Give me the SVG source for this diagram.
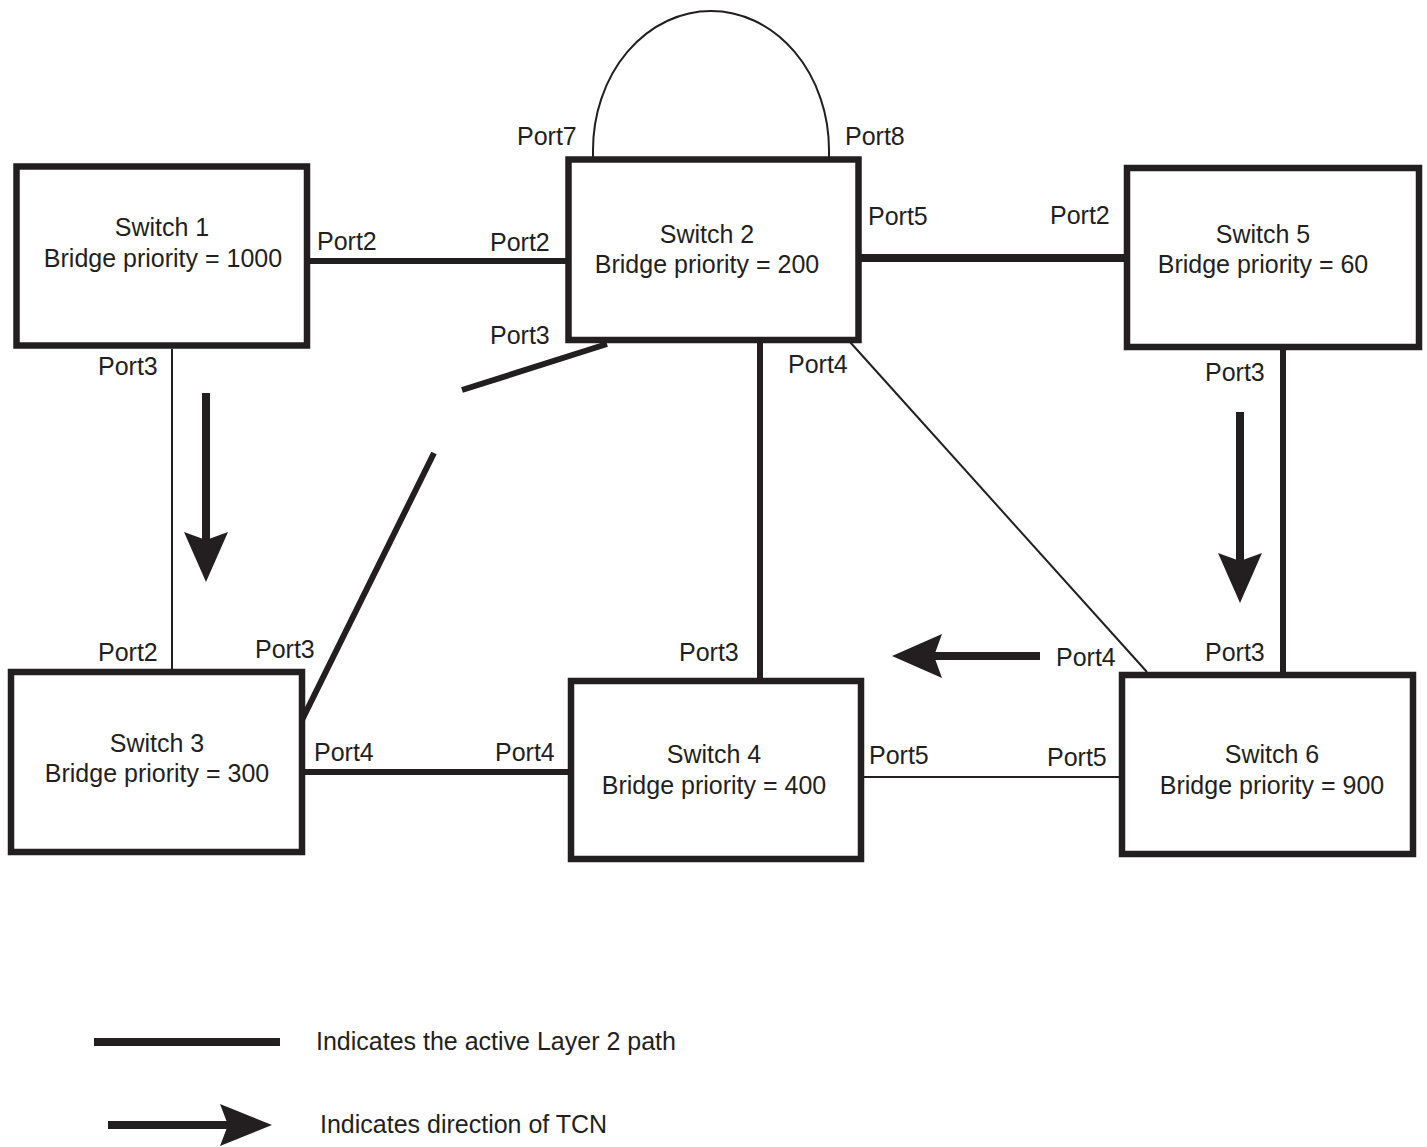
<svg xmlns="http://www.w3.org/2000/svg" width="1427" height="1147" viewBox="0 0 1427 1147">
<style>
.box{fill:#fff;stroke:#231f20;stroke-width:6.5}
.t{font-family:"Liberation Sans",Arial,sans-serif;font-size:25px;fill:#231f20}
.c{text-anchor:middle}
.thick{stroke:#231f20;stroke-width:6;fill:none}
.thin{stroke:#231f20;stroke-width:2;fill:none}
.arr{stroke:#231f20;stroke-width:8;fill:none}
</style>
<defs>
<marker id="head" viewBox="0 0 50 44" refX="8" refY="22" markerWidth="50" markerHeight="44" markerUnits="userSpaceOnUse" orient="auto">
<path d="M0,0 L50,22 L0,44 L8,22 z" fill="#231f20"/>
</marker>
<marker id="headL" viewBox="0 0 52 42" refX="8" refY="21" markerWidth="52" markerHeight="42" markerUnits="userSpaceOnUse" orient="auto">
<path d="M0,0 L52,21 L0,42 L8,21 z" fill="#231f20"/>
</marker>
</defs>
<g id="connectors">
<line class="thick" x1="310" y1="261" x2="566" y2="261"/>
<line class="thick" style="stroke-width:8" x1="860" y1="258" x2="1126" y2="258"/>
<line class="thin" x1="172" y1="349" x2="172" y2="670"/>
<line class="thick" x1="607" y1="344" x2="462" y2="390"/>
<line class="thick" x1="434" y1="453" x2="301" y2="722"/>
<line class="thick" x1="760" y1="342" x2="760" y2="680"/>
<line class="thin" x1="850" y1="342" x2="1147" y2="672"/>
<line class="thick" x1="1283" y1="349" x2="1283" y2="674"/>
<line class="thick" x1="303" y1="772" x2="570" y2="772"/>
<line class="thin" x1="862" y1="777" x2="1121" y2="777"/>
<path class="thin" d="M593,157 L593,150 A118,139 0 0 1 829,150 L829,157"/>
<line class="arr" x1="206" y1="393" x2="206" y2="540" marker-end="url(#head)"/>
<line class="arr" x1="1240" y1="412" x2="1240" y2="561" marker-end="url(#head)"/>
<line class="arr" x1="1040" y1="656" x2="934" y2="656" marker-end="url(#head)"/>
</g>
<g id="switch1">
<rect class="box" x="16.5" y="166.5" width="290.5" height="179"/>
<text class="t c" x="162" y="236">Switch 1</text>
<text class="t c" x="163" y="267">Bridge priority = 1000</text>
</g>
<g id="switch2">
<rect class="box" x="568.5" y="159.5" width="290" height="180.5"/>
<text class="t c" x="707" y="243">Switch 2</text>
<text class="t c" x="707" y="273">Bridge priority = 200</text>
</g>
<g id="switch5">
<rect class="box" x="1127" y="168" width="292" height="179"/>
<text class="t c" x="1263" y="243">Switch 5</text>
<text class="t c" x="1263" y="273">Bridge priority = 60</text>
</g>
<g id="switch3">
<rect class="box" x="11" y="672" width="291" height="180"/>
<text class="t c" x="157" y="752">Switch 3</text>
<text class="t c" x="157" y="782">Bridge priority = 300</text>
</g>
<g id="switch4">
<rect class="box" x="571" y="681" width="290" height="178"/>
<text class="t c" x="714" y="763">Switch 4</text>
<text class="t c" x="714" y="794">Bridge priority = 400</text>
</g>
<g id="switch6">
<rect class="box" x="1122" y="675" width="291" height="179"/>
<text class="t c" x="1272" y="763">Switch 6</text>
<text class="t c" x="1272" y="794">Bridge priority = 900</text>
</g>
<g id="port-labels">
<text class="t" x="317" y="250">Port2</text>
<text class="t" x="490" y="251">Port2</text>
<text class="t" x="98" y="375">Port3</text>
<text class="t" x="517" y="145">Port7</text>
<text class="t" x="845" y="145">Port8</text>
<text class="t" x="868" y="225">Port5</text>
<text class="t" x="1050" y="224">Port2</text>
<text class="t" x="490" y="344">Port3</text>
<text class="t" x="788" y="373">Port4</text>
<text class="t" x="1205" y="381">Port3</text>
<text class="t" x="98" y="661">Port2</text>
<text class="t" x="255" y="658">Port3</text>
<text class="t" x="679" y="661">Port3</text>
<text class="t" x="1056" y="666">Port4</text>
<text class="t" x="1205" y="661">Port3</text>
<text class="t" x="314" y="761">Port4</text>
<text class="t" x="495" y="761">Port4</text>
<text class="t" x="869" y="764">Port5</text>
<text class="t" x="1047" y="766">Port5</text>
</g>
<g id="legend">
<line class="thick" style="stroke-width:8" x1="94" y1="1042" x2="280" y2="1042"/>
<text class="t" x="316" y="1050">Indicates the active Layer 2 path</text>
<line class="arr" x1="108" y1="1125" x2="228" y2="1125" marker-end="url(#headL)"/>
<text class="t" x="320" y="1133">Indicates direction of TCN</text>
</g>
</svg>
